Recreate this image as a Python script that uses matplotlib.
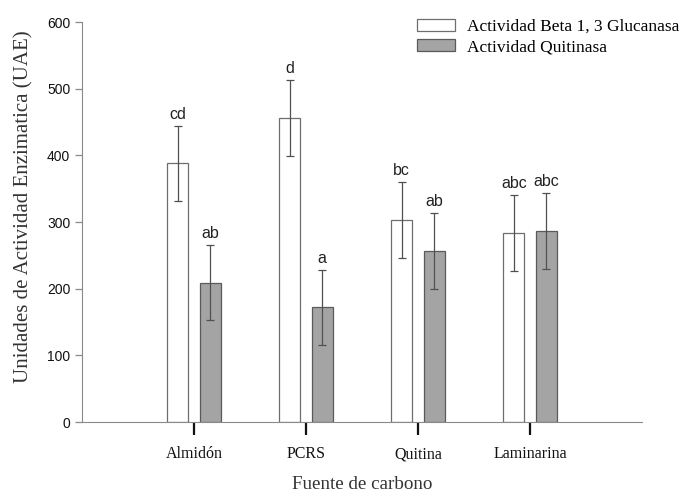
import matplotlib
matplotlib.use('Agg')
import matplotlib.pyplot as plt
import numpy as np

# data
fuentes = ['Almidón', 'PCRS', 'Quitina', 'Laminarina']
glucanasa = [388, 456, 303, 283]
glucanasa_err = [56, 57, 57, 57]
quitinasa = [209, 172, 256, 287]
quitinasa_err = [56, 56, 57, 57]
letras_glu = ['cd', 'd', 'bc', 'abc']
letras_qui = ['ab', 'a', 'ab', 'abc']

serif = ['Liberation Serif', 'DejaVu Serif']
sans = ['Liberation Sans', 'DejaVu Sans']

fig = plt.figure(figsize=(6.94, 4.96), dpi=100)
ax = fig.add_axes([82/694, 1 - 422/496, (642 - 82)/694, 400/496])

x = np.arange(1, len(fuentes) + 1)
w = 0.19
off = 0.145

ax.bar(x - off, glucanasa, w, color='white', edgecolor='#6e6e6e', linewidth=0.9,
       label='Actividad Beta 1, 3 Glucanasa', zorder=2)
ax.bar(x + off, quitinasa, w, color='#a4a4a4', edgecolor='#5a5a5a', linewidth=0.9,
       label='Actividad Quitinasa', zorder=2)
ax.errorbar(x - off, glucanasa, yerr=glucanasa_err, fmt='none', ecolor='#505050',
            elinewidth=0.9, capsize=3, capthick=0.9, zorder=3)
ax.errorbar(x + off, quitinasa, yerr=quitinasa_err, fmt='none', ecolor='#505050',
            elinewidth=0.9, capsize=3, capthick=0.9, zorder=3)

for xi, v, e, t in zip(x - off, glucanasa, glucanasa_err, letras_glu):
    ax.text(xi, v + e + 6, t, ha='center', va='bottom', fontsize=11.5, family=sans, color='#222222')
for xi, v, e, t in zip(x + off, quitinasa, quitinasa_err, letras_qui):
    ax.text(xi, v + e + 6, t, ha='center', va='bottom', fontsize=11.5, family=sans, color='#222222')

ax.set_xlim(0, 5)
ax.set_ylim(0, 600)
ax.set_yticks(range(0, 601, 100))
ax.set_xticks(x)
ax.set_xticklabels(fuentes, family=serif, fontsize=11.5, va='baseline')
for lab in ax.get_yticklabels():
    lab.set_family(sans)
    lab.set_fontsize(10)

ax.spines['top'].set_visible(False)
ax.spines['right'].set_visible(False)
ax.spines['left'].set_color('#8a8a8a')
ax.spines['bottom'].set_color('#8a8a8a')
ax.tick_params(axis='y', colors='#8a8a8a', labelcolor='#111111', length=5, width=0.9)
ax.tick_params(axis='x', colors='#111111', length=9, width=1.6, pad=17)

ax.set_ylabel('Unidades de Actividad Enzimatica (UAE)', family=serif, fontsize=15, color='#333333')
ax.yaxis.set_label_coords(-49/560, 0.539)
ax.set_xlabel('Fuente de carbono', family=serif, fontsize=13.7, color='#333333', labelpad=10)

ax.legend(loc='upper left', bbox_to_anchor=(410/694, 1 - 12/496), bbox_transform=fig.transFigure,
          frameon=False, prop={'family': serif, 'size': 12.5}, handlelength=2.2, handleheight=0.65,
          handletextpad=0.7, labelspacing=0.25, borderaxespad=0)

fig.savefig('out.png', dpi=100)
